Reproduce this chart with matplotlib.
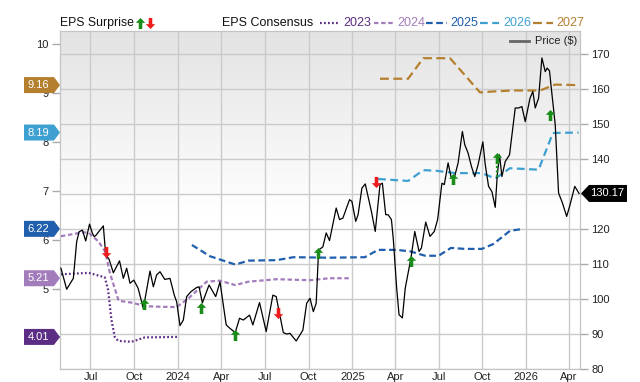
import matplotlib
matplotlib.use("Agg")
import matplotlib.pyplot as plt
import matplotlib.dates as mdates
import numpy as np
import pandas as pd
from matplotlib.path import Path
from matplotlib.lines import Line2D
from matplotlib.patches import Polygon
from matplotlib.ticker import FuncFormatter

plt.rcParams['font.family'] = ['Liberation Sans', 'DejaVu Sans']

# ---- price (right axis) ----
price_dates = ["2023-04-30", "2023-05-12", "2023-05-26", "2023-06-02", "2023-06-07", "2023-06-14",
               "2023-06-21", "2023-06-29", "2023-07-05", "2023-07-09", "2023-07-13", "2023-07-28",
               "2023-08-02", "2023-08-09", "2023-08-18", "2023-08-31", "2023-09-08", "2023-09-15",
               "2023-09-22", "2023-09-30", "2023-10-09", "2023-10-20", "2023-11-03", "2023-11-10",
               "2023-11-17", "2023-11-24", "2023-12-04", "2023-12-15", "2023-12-24", "2023-12-29",
               "2024-01-05", "2024-01-12", "2024-01-19", "2024-01-28", "2024-02-09", "2024-02-14",
               "2024-02-21", "2024-03-06", "2024-03-20", "2024-03-29", "2024-04-11", "2024-04-19",
               "2024-04-30", "2024-05-09", "2024-05-17", "2024-05-30", "2024-06-06", "2024-06-20",
               "2024-07-04", "2024-07-18", "2024-07-25", "2024-08-09", "2024-08-16", "2024-08-23",
               "2024-09-05", "2024-09-19", "2024-09-27", "2024-10-04", "2024-10-11", "2024-10-17",
               "2024-10-22", "2024-10-31", "2024-11-07", "2024-11-14", "2024-11-28", "2024-12-05",
               "2024-12-12", "2024-12-26", "2024-12-31", "2025-01-08", "2025-01-13", "2025-01-21",
               "2025-01-28", "2025-02-10", "2025-02-18", "2025-02-28", "2025-03-05", "2025-03-12",
               "2025-03-17", "2025-03-24", "2025-03-28", "2025-04-04", "2025-04-09", "2025-04-16",
               "2025-04-22", "2025-05-04", "2025-05-12", "2025-05-21", "2025-05-26", "2025-06-04",
               "2025-06-13", "2025-06-22", "2025-06-29", "2025-07-08", "2025-07-13", "2025-07-21",
               "2025-07-27", "2025-08-03", "2025-08-11", "2025-08-20", "2025-08-25", "2025-09-01",
               "2025-09-08", "2025-09-15", "2025-09-22", "2025-10-02", "2025-10-07", "2025-10-14",
               "2025-10-21", "2025-10-28", "2025-11-01", "2025-11-06", "2025-11-11", "2025-11-18",
               "2025-11-27", "2025-12-09", "2025-12-16", "2025-12-23", "2025-12-30", "2026-01-09",
               "2026-01-15", "2026-01-20", "2026-01-27", "2026-02-03", "2026-02-10", "2026-02-14",
               "2026-02-19", "2026-02-22", "2026-03-03", "2026-03-10", "2026-03-18", "2026-03-27",
               "2026-04-03", "2026-04-13", "2026-04-22"]
price_vals = [108.8, 102.8, 105.9, 116.4, 119.2, 119.7,
              116.6, 121.4, 118.8, 117.8, 118.3, 120.9,
              112.6, 111.4, 107.5, 110.9, 105.9, 108.8,
              104.5, 105.4, 103.1, 97.3, 108.0, 103.5,
              106.9, 107.8, 105.6, 105.9, 101.1, 99.2,
              92.4, 94.0, 100.7, 102.1, 103.3, 103.5,
              98.9, 104.0, 100.7, 104.9, 92.6, 91.6,
              90.4, 94.5, 94.0, 95.4, 92.6, 99.0,
              90.7, 101.1, 100.7, 90.4, 90.0, 90.2,
              88.0, 91.1, 98.8, 100.2, 96.4, 98.8,
              114.0, 114.9, 118.9, 116.7, 126.0, 122.7,
              123.1, 128.4, 127.9, 122.2, 124.1, 131.7,
              132.9, 125.0, 119.3, 132.7, 133.1, 124.1,
              124.1, 122.7, 117.0, 103.1, 95.5, 94.6,
              103.1, 111.7, 119.3, 113.6, 114.6, 122.0,
              117.9, 119.3, 122.7, 133.1, 132.7, 138.9,
              135.0, 134.6, 138.9, 147.9, 144.1, 141.7,
              137.9, 135.0, 138.4, 144.9, 138.4, 132.2,
              130.7, 126.2, 135.0, 141.2, 135.0, 139.3,
              141.2, 154.6, 154.6, 155.0, 150.7, 157.4,
              159.3, 154.6, 157.4, 168.9, 165.0, 166.0,
              165.2, 161.2, 149.8, 130.3, 127.5, 123.6,
              126.9, 132.2, 130.17]

# ---- EPS consensus (left axis) ----
eps23_dates = ["2023-04-30", "2023-06-27", "2023-07-31", "2023-08-07", "2023-08-14", "2023-08-21",
               "2023-08-28", "2023-09-25", "2023-10-23", "2023-12-30"]
eps23_vals = [5.29, 5.32, 5.23, 4.97, 4.36, 4.01, 3.93, 3.91, 4.00, 4.01]

eps24_dates = ["2023-04-30", "2023-06-16", "2023-06-27", "2023-07-18", "2023-08-01", "2023-08-11",
               "2023-08-29", "2023-09-26", "2023-10-24", "2023-11-14", "2023-12-29", "2024-01-23",
               "2024-03-01", "2024-03-29", "2024-04-30", "2024-05-28", "2024-07-26", "2024-10-04",
               "2024-11-14", "2024-12-28"]
eps24_vals = [6.07, 6.15, 6.14, 5.96, 5.75, 5.31, 4.75, 4.71, 4.64, 4.63, 4.62, 4.80,
              5.14, 5.16, 5.07, 5.14, 5.19, 5.17, 5.21, 5.21]

eps25_dates = ["2024-01-30", "2024-03-08", "2024-04-30", "2024-05-28", "2024-07-26", "2024-08-30",
               "2024-11-14", "2025-01-27", "2025-02-24", "2025-04-04", "2025-05-02", "2025-06-03",
               "2025-07-01", "2025-07-27", "2025-08-26", "2025-09-30", "2025-10-24", "2025-11-28",
               "2025-12-26"]
eps25_vals = [5.89, 5.66, 5.49, 5.57, 5.58, 5.64, 5.63, 5.64, 5.79, 5.79, 5.76, 5.67,
              5.67, 5.83, 5.81, 5.81, 5.91, 6.18, 6.22]

eps26_dates = ["2025-02-24", "2025-04-28", "2025-05-30", "2025-06-24", "2025-08-05", "2025-09-30",
               "2025-10-28", "2025-11-28", "2026-01-27", "2026-02-26", "2026-04-21"]
eps26_vals = [7.24, 7.20, 7.42, 7.41, 7.36, 7.36, 7.25, 7.46, 7.43, 8.18, 8.19]

eps27_dates = ["2025-02-28", "2025-04-28", "2025-05-30", "2025-07-25", "2025-09-26", "2025-10-24",
               "2025-12-05", "2026-01-30", "2026-03-03", "2026-04-17"]
eps27_vals = [9.29, 9.29, 9.71, 9.71, 9.01, 9.03, 9.05, 9.05, 9.17, 9.16]

# ---- EPS surprise markers (at price level) ----
surprise_dates = ["2023-08-02", "2023-10-22", "2024-02-19", "2024-04-30", "2024-07-28", "2024-10-21",
                  "2025-02-20", "2025-05-04", "2025-08-01", "2025-11-01", "2026-02-21"]
surprise_price = [113.5, 98.6, 97.3, 89.7, 95.9, 113.2, 133.4, 110.9, 134.4, 140.3, 152.5]
surprise_up = [False, True, True, True, False, True, False, True, True, True, True]

years = ["2023", "2024", "2025", "2026", "2027"]
colors = ["#5b2d85", "#a37cbc", "#1f5fad", "#3ea0d1", "#b47f2e"]
styles = [(0, (0.8, 1.0)), (0, (2, 1.2)), (0, (3, 1.6)), (0, (3.5, 2)), (0, (4, 2))]
green = "#1a8c1a"
red = "#ee1c1c"

W, H = 640, 382
L, R, T, B = 60, 580, 31, 369
fig = plt.figure(figsize=(W / 100, H / 100), dpi=100)
ax = fig.add_axes([L / W, 1 - B / H, (R - L) / W, (B - T) / H])
ax2 = ax.twinx()

# gradient background
f = np.linspace(1, 0, 200)[:, None]
g = 1 - 0.11 * np.clip((f - 0.47) / 0.53, 0, 1)
ax.imshow(np.dstack([g, g, g]), extent=[0, 1, 0, 1], transform=ax.transAxes,
          aspect='auto', zorder=0)

xlo, xhi = pd.Timestamp("2023-04-28"), pd.Timestamp("2026-04-24")
ax.set_xlim(xlo, xhi)
ax.set_ylim(80, 176.6)
ax2.set_ylim(3.354, 10.266)

ax.yaxis.tick_right()
ax2.yaxis.tick_left()
# labels hidden behind the value tags are left blank
ax.set_yticks(range(80, 171, 10))
ax.set_yticklabels([str(v) if v != 130 else "" for v in range(80, 171, 10)])
ax2.set_yticks(range(4, 11))
ax2.set_yticklabels([str(v) if v != 4 else "" for v in range(4, 11)])
ax.xaxis.set_major_locator(mdates.MonthLocator(bymonth=[1, 4, 7, 10]))
ax.xaxis.set_major_formatter(FuncFormatter(
    lambda v, p: mdates.num2date(v).strftime('%Y' if mdates.num2date(v).month == 1 else '%b')))

ax.set_axisbelow(True)
ax.grid(True, color='#cbcbcb', lw=1)
for a in (ax, ax2):
    for s in a.spines.values():
        s.set_color('#c4c4c4')
ax.tick_params(axis='x', length=0, pad=2, labelsize=8, labelcolor='#222')
ax.tick_params(axis='y', length=6, width=1, color='#aaaaaa', pad=2, labelsize=8, labelcolor='#222')
ax2.tick_params(axis='y', length=6, width=1, color='#aaaaaa', pad=2, labelsize=8, labelcolor='#222')

eps_series = [(eps23_dates, eps23_vals), (eps24_dates, eps24_vals), (eps25_dates, eps25_vals),
              (eps26_dates, eps26_vals), (eps27_dates, eps27_vals)]
for (d, v), c, st in zip(eps_series, colors, styles):
    ax2.plot(pd.to_datetime(d), v, color=c, lw=1.6, linestyle=st, zorder=2)

pdts = pd.to_datetime(price_dates)
ax2.plot(pdts, price_vals, color='black', lw=0.9, transform=ax.transData, zorder=3)

# arrow markers
up_v = [(0, 1), (0.85, 0.12), (0.32, 0.12), (0.32, -1), (-0.32, -1), (-0.32, 0.12), (-0.85, 0.12), (0, 1)]
codes = [Path.MOVETO] + [Path.LINETO] * 6 + [Path.CLOSEPOLY]
up_arrow = Path(up_v, codes)
down_arrow = Path([(x, -y) for x, y in up_v], codes)

sd = pd.to_datetime(surprise_dates)
# dotted stem on the Nov 2025 beat
ax2.plot([sd[9], sd[9]], [135.0, 140.3], color=green, lw=1.6, ls=(0, (1, 1)),
         transform=ax.transData, zorder=4)
for d, p, u in zip(sd, surprise_price, surprise_up):
    ax2.plot([d], [p], linestyle='none', marker=up_arrow if u else down_arrow, markersize=8,
             color=green if u else red, markeredgewidth=0, transform=ax.transData, zorder=5)

# value tags
fig.canvas.draw()
x0 = mdates.date2num(xlo)
for (d, v), c in zip(eps_series, colors):
    val = v[-1]
    y = ax2.transData.transform((x0, val))[1]
    pts = [(24, y - 8), (54, y - 8), (60, y), (54, y + 8), (24, y + 8)]
    fig.add_artist(Polygon([(px / W, py / H) for px, py in pts], closed=True, facecolor=c,
                           edgecolor='none', transform=fig.transFigure, zorder=5))
    fig.text(38 / W, y / H, f"{val:.2f}", color='white', fontsize=8, ha='center', va='center',
             zorder=6)

last = price_vals[-1]
y = ax.transData.transform((x0, last))[1]
pts = [(581, y), (589, y + 8.5), (627, y + 8.5), (627, y - 8.5), (589, y - 8.5)]
fig.add_artist(Polygon([(px / W, py / H) for px, py in pts], closed=True, facecolor='black',
                       edgecolor='none', transform=fig.transFigure, zorder=5))
fig.text(607 / W, y / H, f"{last:.2f}", color='white', fontsize=8, ha='center', va='center', zorder=6)

# header legend
hy = 1 - 23 / H
fig.text(60.5 / W, hy, "EPS Surprise", fontsize=8.8, va='center', color='#111')
fig.add_artist(Line2D([140 / W], [hy], marker=up_arrow, markersize=8, color=green,
                      markeredgewidth=0, linestyle='none', transform=fig.transFigure))
fig.add_artist(Line2D([149.5 / W], [hy], marker=down_arrow, markersize=8, color=red,
                      markeredgewidth=0, linestyle='none', transform=fig.transFigure))
fig.text(222 / W, hy, "EPS Consensus", fontsize=9, va='center', color='#111')
seg_x = [(320, 339), (374, 394), (426, 447), (480, 499), (533, 553)]
txt_x = [343, 397, 450, 503, 556]
for yr, c, st, (a, b), tx in zip(years, colors, styles, seg_x, txt_x):
    fig.add_artist(Line2D([a / W, b / W], [hy, hy], color=c, lw=1.6, linestyle=st,
                          transform=fig.transFigure))
    fig.text(tx / W, hy, yr, fontsize=9, va='center', color=c)

# price legend
py = 1 - 41 / H
fig.add_artist(Line2D([510 / W, 529 / W], [py, py], color='#666666', lw=2, transform=fig.transFigure))
fig.text(535 / W, py, "Price ($)", fontsize=8, va='center', color='#222')

fig.savefig("out.png", dpi=100)
